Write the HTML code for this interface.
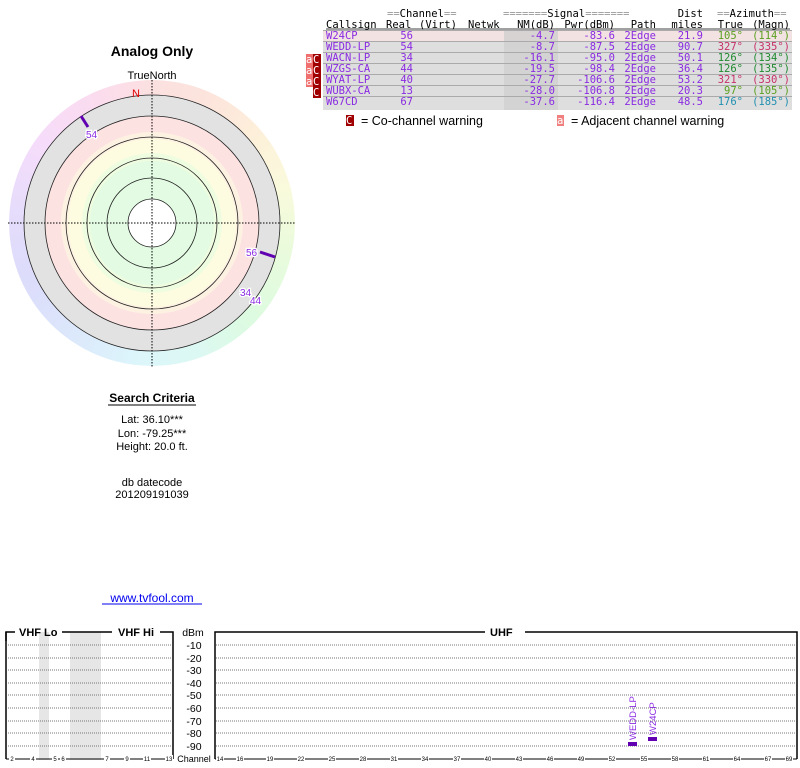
<!DOCTYPE html>
<html><head><meta charset="utf-8"><style>
body{margin:0;background:#fff;}
svg{display:block;}
.m{font-family:"DejaVu Sans Mono","Liberation Mono",monospace;font-size:10.5px;}
.s{font-family:"Liberation Sans",sans-serif;}
</style></head><body>
<svg width="800" height="768" viewBox="0 0 800 768" xmlns="http://www.w3.org/2000/svg">
<defs>
<clipPath id="ring"><circle cx="152" cy="223" r="143"/></clipPath>
</defs>
<text x="152" y="56" text-anchor="middle" class="s" font-size="14" font-weight="bold">Analog Only</text>
<text x="152" y="79" text-anchor="middle" class="s" font-size="11">TrueNorth</text>

<foreignObject x="9" y="80" width="286" height="286" clip-path="url(#ring)">
<div xmlns="http://www.w3.org/1999/xhtml" style="width:286px;height:286px;border-radius:50%;background:conic-gradient(#fbe0e0 0deg,#fde6dc 30deg,#fdf0da 50deg,#fafadc 75deg,#eafbdc 100deg,#dcfbe0 135deg,#dcf8f2 160deg,#dcf6fb 185deg,#dce8fb 215deg,#dcdcfb 245deg,#e6dcfb 275deg,#f6dcfb 305deg,#fbdcef 335deg,#fbe0e0 360deg);"></div>
</foreignObject>
<circle cx="152" cy="223" r="128" fill="#e2e2e2"/>
<circle cx="152" cy="223" r="107" fill="#fde2e2"/>
<circle cx="152" cy="223" r="91" fill="#fdf2e2"/>
<circle cx="152" cy="223" r="84" fill="#fefce0"/>
<circle cx="152" cy="223" r="70" fill="#eefce0"/>
<circle cx="152" cy="223" r="62" fill="#e2fbe2"/>
<circle cx="152" cy="223" r="24" fill="#fff"/>
<g fill="none" stroke="#222" stroke-width="0.8">
<circle cx="152" cy="223" r="128"/><circle cx="152" cy="223" r="107"/><circle cx="152" cy="223" r="86"/>
<circle cx="152" cy="223" r="65"/><circle cx="152" cy="223" r="45"/><circle cx="152" cy="223" r="24"/>
</g>
<g stroke="#000" stroke-width="1" stroke-dasharray="1.5,1.5">
<line x1="8" y1="223" x2="296" y2="223"/><line x1="152" y1="80" x2="152" y2="367"/>
</g>
<text x="136" y="97" text-anchor="middle" class="s" font-size="11" fill="#e00000">N</text>
<line x1="81" y1="116" x2="88" y2="127" stroke="#6000b0" stroke-width="3"/>
<text x="86" y="138" class="s" font-size="10" fill="#8a2be2" stroke="#fff" stroke-width="2.5" paint-order="stroke">54</text>
<line x1="260" y1="252" x2="275" y2="257" stroke="#6000b0" stroke-width="3"/>
<text x="246" y="256" class="s" font-size="10" fill="#8a2be2" stroke="#fff" stroke-width="2.5" paint-order="stroke">56</text>
<text x="240" y="296" class="s" font-size="10" fill="#8a2be2" stroke="#fff" stroke-width="2.5" paint-order="stroke">34</text>
<text x="250" y="304" class="s" font-size="10" fill="#8a2be2" stroke="#fff" stroke-width="2.5" paint-order="stroke">44</text>

<text x="152" y="402" text-anchor="middle" class="s" font-size="12" font-weight="bold">Search Criteria</text>
<line x1="108" y1="405" x2="196" y2="405" stroke="#000" stroke-width="1"/>
<g class="s" font-size="11" text-anchor="middle">
<text x="152" y="423">Lat: 36.10***</text>
<text x="152" y="437">Lon: -79.25***</text>
<text x="152" y="450">Height: 20.0 ft.</text>
<text x="152" y="486">db datecode</text>
<text x="152" y="498">201209191039</text>
</g>
<text x="152" y="602" text-anchor="middle" class="s" font-size="12" fill="#0000ee">www.tvfool.com</text>
<line x1="102" y1="604" x2="202" y2="604" stroke="#0000ee" stroke-width="1"/>

<rect x="323" y="30" width="469" height="11" fill="#f2e2e2"/>
<rect x="323" y="41" width="469" height="69" fill="#dedede"/>
<rect x="504" y="30" width="54" height="80" fill="#cfcfcf" opacity="0.8"/>
<g stroke="#aaa" stroke-width="1">
<line x1="323" y1="30.5" x2="792" y2="30.5"/>
<line x1="323" y1="41.5" x2="792" y2="41.5"/><line x1="323" y1="52.5" x2="792" y2="52.5"/>
<line x1="323" y1="63.5" x2="792" y2="63.5"/><line x1="323" y1="74.5" x2="792" y2="74.5"/>
<line x1="323" y1="85.5" x2="792" y2="85.5"/><line x1="323" y1="96.5" x2="792" y2="96.5"/>
</g>
<line x1="326" y1="29" x2="790" y2="29" stroke="#000" stroke-width="0.7"/>
<g class="m" fill="#000">
<text x="387" y="17" fill="#999">==<tspan fill="#000">Channel</tspan>==</text>
<text x="503" y="17" fill="#999">=======<tspan fill="#000">Signal</tspan>=======</text>
<text x="703" y="17" text-anchor="end">Dist</text>
<text x="717" y="17" fill="#999">==<tspan fill="#000">Azimuth</tspan>==</text>
<text x="326" y="28">Callsign</text><text x="386" y="28">Real</text><text x="419" y="28">(Virt)</text><text x="468" y="28">Netwk</text>
<text x="555" y="28" text-anchor="end">NM(dB)</text><text x="615" y="28" text-anchor="end">Pwr(dBm)</text>
<text x="656" y="28" text-anchor="end">Path</text><text x="703" y="28" text-anchor="end">miles</text>
<text x="743" y="28" text-anchor="end">True</text><text x="790" y="28" text-anchor="end">(Magn)</text>
</g>
<g class="m" fill="#8a2be2">
<text x="326" y="39">W24CP</text><text x="413" y="39" text-anchor="end">56</text><text x="555" y="39" text-anchor="end">-4.7</text><text x="615" y="39" text-anchor="end">-83.6</text><text x="656" y="39" text-anchor="end">2Edge</text><text x="703" y="39" text-anchor="end">21.9</text>
<text x="326" y="50">WEDD-LP</text><text x="413" y="50" text-anchor="end">54</text><text x="555" y="50" text-anchor="end">-8.7</text><text x="615" y="50" text-anchor="end">-87.5</text><text x="656" y="50" text-anchor="end">2Edge</text><text x="703" y="50" text-anchor="end">90.7</text>
<text x="326" y="61">WACN-LP</text><text x="413" y="61" text-anchor="end">34</text><text x="555" y="61" text-anchor="end">-16.1</text><text x="615" y="61" text-anchor="end">-95.0</text><text x="656" y="61" text-anchor="end">2Edge</text><text x="703" y="61" text-anchor="end">50.1</text>
<text x="326" y="72">WZGS-CA</text><text x="413" y="72" text-anchor="end">44</text><text x="555" y="72" text-anchor="end">-19.5</text><text x="615" y="72" text-anchor="end">-98.4</text><text x="656" y="72" text-anchor="end">2Edge</text><text x="703" y="72" text-anchor="end">36.4</text>
<text x="326" y="83">WYAT-LP</text><text x="413" y="83" text-anchor="end">40</text><text x="555" y="83" text-anchor="end">-27.7</text><text x="615" y="83" text-anchor="end">-106.6</text><text x="656" y="83" text-anchor="end">2Edge</text><text x="703" y="83" text-anchor="end">53.2</text>
<text x="326" y="94">WUBX-CA</text><text x="413" y="94" text-anchor="end">13</text><text x="555" y="94" text-anchor="end">-28.0</text><text x="615" y="94" text-anchor="end">-106.8</text><text x="656" y="94" text-anchor="end">2Edge</text><text x="703" y="94" text-anchor="end">20.3</text>
<text x="326" y="105">W67CD</text><text x="413" y="105" text-anchor="end">67</text><text x="555" y="105" text-anchor="end">-37.6</text><text x="615" y="105" text-anchor="end">-116.4</text><text x="656" y="105" text-anchor="end">2Edge</text><text x="703" y="105" text-anchor="end">48.5</text>
</g>
<g class="m">
<text x="743" y="39" text-anchor="end" fill="#5aa020">105°</text><text x="790" y="39" text-anchor="end" fill="#5aa020">(114°)</text>
<text x="743" y="50" text-anchor="end" fill="#c8306a">327°</text><text x="790" y="50" text-anchor="end" fill="#c8306a">(335°)</text>
<text x="743" y="61" text-anchor="end" fill="#208a30">126°</text><text x="790" y="61" text-anchor="end" fill="#208a30">(134°)</text>
<text x="743" y="72" text-anchor="end" fill="#208a30">126°</text><text x="790" y="72" text-anchor="end" fill="#208a30">(135°)</text>
<text x="743" y="83" text-anchor="end" fill="#c8306a">321°</text><text x="790" y="83" text-anchor="end" fill="#c8306a">(330°)</text>
<text x="743" y="94" text-anchor="end" fill="#5aa020">97°</text><text x="790" y="94" text-anchor="end" fill="#5aa020">(105°)</text>
<text x="743" y="105" text-anchor="end" fill="#2090b0">176°</text><text x="790" y="105" text-anchor="end" fill="#2090b0">(185°)</text>
</g>
<g class="m" font-size="10">
<rect x="306" y="54" width="7" height="11" fill="#f07070"/><rect x="313" y="54" width="8" height="11" fill="#a00000"/>
<rect x="306" y="65" width="7" height="11" fill="#f07070"/><rect x="313" y="65" width="8" height="11" fill="#a00000"/>
<rect x="306" y="76" width="7" height="11" fill="#f07070"/><rect x="313" y="76" width="8" height="11" fill="#a00000"/>
<rect x="313" y="87" width="8" height="11" fill="#a00000"/>
<g fill="#fff"><text x="306" y="63">a</text><text x="313" y="63">C</text><text x="306" y="74">a</text><text x="313" y="74">C</text><text x="306" y="85">a</text><text x="313" y="85">C</text><text x="313" y="96">C</text></g>
<rect x="346" y="115" width="8" height="11" fill="#a00000"/><text x="346" y="124" fill="#fff">C</text>
<rect x="557" y="115" width="7" height="11" fill="#f08080"/><text x="557" y="124" fill="#fff">a</text>
</g>
<text x="361" y="125" class="s" font-size="12.5">= Co-channel warning</text>
<text x="571" y="125" class="s" font-size="12.5">= Adjacent channel warning</text>

<rect x="39" y="632" width="10" height="128" fill="#e6e6e6"/>
<rect x="70" y="632" width="31" height="128" fill="#e6e6e6"/>
<g stroke="#777" stroke-width="1" stroke-dasharray="1,1">
<line x1="8" y1="645" x2="172" y2="645"/><line x1="8" y1="658" x2="172" y2="658"/><line x1="8" y1="670" x2="172" y2="670"/><line x1="8" y1="683" x2="172" y2="683"/><line x1="8" y1="695" x2="172" y2="695"/><line x1="8" y1="708" x2="172" y2="708"/><line x1="8" y1="721" x2="172" y2="721"/><line x1="8" y1="733" x2="172" y2="733"/><line x1="8" y1="746" x2="172" y2="746"/>
<line x1="216" y1="645" x2="796" y2="645"/><line x1="216" y1="658" x2="796" y2="658"/><line x1="216" y1="670" x2="796" y2="670"/><line x1="216" y1="683" x2="796" y2="683"/><line x1="216" y1="695" x2="796" y2="695"/><line x1="216" y1="708" x2="796" y2="708"/><line x1="216" y1="721" x2="796" y2="721"/><line x1="216" y1="733" x2="796" y2="733"/><line x1="216" y1="746" x2="796" y2="746"/>
</g>
<g fill="none" stroke="#000" stroke-width="1.5">
<path d="M6,641 V632 H15 M62,632 H112 M160,632 H173 V759"/>
<path d="M6,632 V759"/>
<path d="M215,759 V632 H485 M525,632 H797 V759"/>
</g>
<line x1="6" y1="759" x2="173" y2="759" stroke="#000" stroke-width="1"/>
<line x1="215" y1="759" x2="797" y2="759" stroke="#000" stroke-width="1"/>
<g class="s" font-size="11" font-weight="bold">
<text x="19" y="636">VHF Lo</text><text x="118" y="636">VHF Hi</text><text x="490" y="636">UHF</text>
</g>
<g class="s" font-size="10.5" text-anchor="middle">
<text x="193" y="636">dBm</text>
<text x="194" y="649">-10</text><text x="194" y="662">-20</text><text x="194" y="674">-30</text><text x="194" y="687">-40</text><text x="194" y="699">-50</text><text x="194" y="712">-60</text><text x="194" y="725">-70</text><text x="194" y="737">-80</text><text x="194" y="750">-90</text>
<text x="194" y="762" font-size="9">Channel</text>
</g>
<g class="s" font-size="6" text-anchor="middle">
<g fill="#fff" stroke="none">
<rect x="9" y="755" width="6" height="8"/><rect x="30" y="755" width="6" height="8"/><rect x="52" y="755" width="6" height="8"/><rect x="60" y="755" width="6" height="8"/><rect x="104" y="755" width="6" height="8"/><rect x="124" y="755" width="6" height="8"/><rect x="143" y="755" width="8" height="8"/><rect x="165" y="755" width="8" height="8"/>
<rect x="216" y="755" width="8" height="8"/><rect x="236" y="755" width="8" height="8"/><rect x="266" y="755" width="8" height="8"/><rect x="297" y="755" width="8" height="8"/><rect x="328" y="755" width="8" height="8"/><rect x="359" y="755" width="8" height="8"/><rect x="390" y="755" width="8" height="8"/><rect x="421" y="755" width="8" height="8"/><rect x="453" y="755" width="8" height="8"/><rect x="484" y="755" width="8" height="8"/><rect x="515" y="755" width="8" height="8"/><rect x="546" y="755" width="8" height="8"/><rect x="577" y="755" width="8" height="8"/><rect x="608" y="755" width="8" height="8"/><rect x="640" y="755" width="8" height="8"/><rect x="671" y="755" width="8" height="8"/><rect x="702" y="755" width="8" height="8"/><rect x="733" y="755" width="8" height="8"/><rect x="764" y="755" width="8" height="8"/><rect x="785" y="755" width="8" height="8"/>
</g>
<text x="12" y="761">2</text><text x="33" y="761">4</text><text x="55" y="761">5</text><text x="63" y="761">6</text><text x="107" y="761">7</text><text x="127" y="761">9</text><text x="147" y="761">11</text><text x="169" y="761">13</text>
<text x="220" y="761">14</text><text x="240" y="761">16</text><text x="270" y="761">19</text><text x="301" y="761">22</text><text x="332" y="761">25</text><text x="363" y="761">28</text><text x="394" y="761">31</text><text x="425" y="761">34</text><text x="457" y="761">37</text><text x="488" y="761">40</text><text x="519" y="761">43</text><text x="550" y="761">46</text><text x="581" y="761">49</text><text x="612" y="761">52</text><text x="644" y="761">55</text><text x="675" y="761">58</text><text x="706" y="761">61</text><text x="737" y="761">64</text><text x="768" y="761">67</text><text x="789" y="761">69</text>
</g>
<rect x="628" y="742" width="9" height="4" fill="#6000b0"/>
<rect x="648" y="737" width="9" height="4" fill="#6000b0"/>
<text transform="translate(636,740) rotate(-90)" class="s" font-size="9.5" fill="#8a2be2">WEDD-LP</text>
<text transform="translate(656,735) rotate(-90)" class="s" font-size="9.5" fill="#8a2be2">W24CP</text>
</svg>
</body></html>
